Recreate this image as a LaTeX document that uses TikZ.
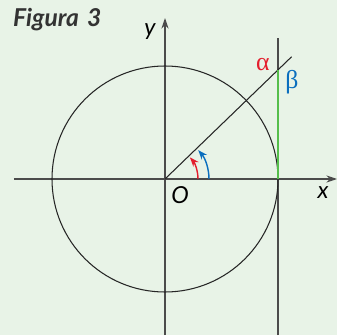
\documentclass[tikz,border=0pt]{standalone}
\usepackage{fontspec}
\setmainfont{Lato}
\newfontfamily\greekfont{Liberation Serif}
\usetikzlibrary{arrows.meta}
\definecolor{fig_bg}{RGB}{232,243,231}
\definecolor{axis_gray}{RGB}{75,75,75}
\definecolor{alpha_red}{RGB}{228,30,45}
\definecolor{beta_blue}{RGB}{10,110,190}
\definecolor{tan_green}{RGB}{85,190,75}
\tikzset{
  axisline/.style={axis_gray,line width=1pt},
  axistip/.style={-{Stealth[length=9pt,width=6pt]}},
  angarrow/.style={line width=1.2pt,-{Stealth[length=8pt,width=6pt]}},
  lbl/.style={font=\fontsize{20}{23}\selectfont\itshape,inner sep=0pt},
  greek/.style={font=\fontsize{22}{25}\selectfont\greekfont,inner sep=0pt},
}

\begin{document}
\begin{tikzpicture}[x=0.03cm,y=0.03cm]
          \fill[fig_bg] (-165,-156) rectangle (172,179);
          \useasboundingbox (-165,-156) rectangle (172,179);
          \coordinate (O) at (0,0);
          \coordinate (xl) at (-151,0);
          \coordinate (xr) at (172,0);
          \coordinate (yb) at (0,-156);
          \coordinate (yt) at (0,161);
          \coordinate (tb) at (113,-156);
          \coordinate (tt) at (113,141);
          \coordinate (T) at (113,109);
          \coordinate (P) at (44:176);
          % axes
          \draw[axisline,axistip] (xl)--(xr);
          \draw[axisline,axistip] (yb)--(yt);
          \draw[axisline] (tb)--(tt);
          % circle and ray
          \draw[black!85,line width=0.9pt] (O) circle (113);
          \draw[black!85,line width=0.9pt] (O)--(P);
          \draw[tan_green,line width=2pt] (113,0)--(T);
          % angle arrows
          \draw[alpha_red,angarrow] (33,0) arc (0:41:33);
          \draw[beta_blue,angarrow] (44,0) arc (0:41:44);
          % labels
          \node[lbl] (Olbl) at (15,-16) {O};
          \node[lbl] (xlbl) at (158,-14) {x};
          \node[lbl] (ylbl) at (-15,147) {y};
          \node[greek,alpha_red] (alpha) at (98,114) {α};
          \node[greek,beta_blue] (beta) at (127,97) {β};
          \node[anchor=west,inner sep=0pt,font=\fontsize{21}{24}\selectfont\bfseries\itshape,black!80] (title) at (-152,159) {Figura\,\,3};
        \end{tikzpicture}
\end{document}
